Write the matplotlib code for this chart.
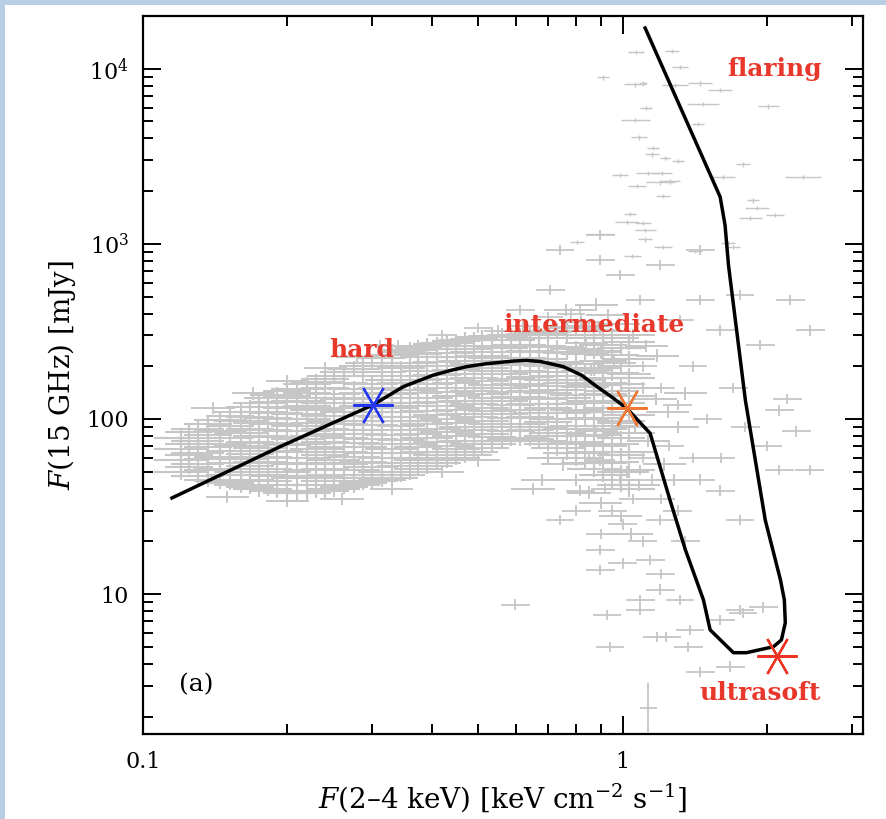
import numpy as np
import matplotlib
matplotlib.use("Agg")
import matplotlib.pyplot as plt
import matplotlib.patches as patches
from matplotlib.ticker import LogLocator, NullFormatter

plt.rcParams['font.family'] = ['DejaVu Serif']
plt.rcParams['mathtext.fontset'] = 'dejavuserif'

# --- track of the outburst (black line)
track_x = [0.115, 0.193, 0.301, 0.349, 0.403, 0.44, 0.473, 0.521, 0.591, 0.63, 0.673,
           0.751, 0.82, 0.883, 0.95, 1.019, 1.14, 1.254, 1.35, 1.472, 1.52, 1.57, 1.70,
           1.81, 2.06, 2.14, 2.18, 2.17, 2.13, 1.98, 1.80, 1.66, 1.633, 1.595, 1.113]
track_y = [35.4, 69.4, 120, 153, 178, 190, 199, 207, 214, 216, 213,
           199, 178, 153, 133, 115, 82.8, 34.4, 17.9, 9.27, 6.25, 5.73, 4.63,
           4.63, 5.01, 5.48, 6.86, 9.27, 12.05, 26.5, 128, 755, 1276, 1853, 17070]

# --- state markers
state_names = ['hard', 'intermediate', 'ultrasoft']
state_x = [0.301, 1.02, 2.094]
state_y = [120, 115, 4.43]
state_colors = ['#2438f0', '#ee7733', '#ee3322']

# --- state labels
label_text = ['hard', 'intermediate', 'flaring', 'ultrasoft']
label_x = [0.286, 0.872, 2.067, 1.934]
label_y = [247, 343, 10000, 2.73]

# --- dense hard/intermediate band: one column of points per x value
band_x = [0.12, 0.13, 0.145, 0.16, 0.175, 0.19, 0.21, 0.23, 0.25, 0.275, 0.30, 0.33,
          0.36, 0.39, 0.43, 0.47, 0.51, 0.56, 0.61, 0.67, 0.73, 0.80, 0.87, 0.95, 1.03]
band_y = [
    [50, 58, 67, 78],
    [47, 55, 64, 75, 88],
    [44, 52, 61, 72, 85, 99],
    [42, 50, 59, 70, 83, 97, 110],
    [40, 48, 57, 68, 80, 95, 110, 124],
    [39, 47, 56, 66, 79, 93, 108, 125, 137],
    [38, 46, 55, 65, 77, 91, 107, 126, 148],
    [39, 47, 56, 67, 80, 95, 112, 132, 162],
    [40, 48, 58, 69, 82, 98, 116, 138, 176],
    [42, 51, 61, 73, 87, 104, 124, 148, 192],
    [44, 53, 64, 77, 92, 110, 131, 158, 210],
    [46, 56, 67, 81, 97, 116, 139, 168, 200, 232],
    [50, 60, 72, 86, 103, 123, 147, 176, 210, 248],
    [54, 65, 78, 93, 111, 132, 158, 188, 225, 262],
    [58, 70, 84, 100, 119, 142, 169, 200, 238, 272],
    [62, 75, 90, 107, 127, 151, 180, 214, 250, 284],
    [68, 82, 98, 116, 138, 164, 195, 230, 292],
    [75, 90, 107, 127, 151, 180, 214, 255, 298],
    [78, 94, 112, 133, 158, 188, 224, 265, 300],
    [75, 90, 108, 130, 155, 185, 220, 262, 308],
    [68, 83, 100, 121, 146, 176, 212, 256, 318],
    [60, 74, 91, 112, 137, 168, 206, 252, 336],
    [52, 65, 81, 101, 126, 157, 195, 243, 300],
    [45, 57, 72, 91, 115, 145, 183, 231, 290],
    [40, 51, 65, 83, 106, 135, 172, 220, 275],
]

# second, interleaved set of band points
band2_x = [0.125, 0.137, 0.152, 0.167, 0.182, 0.20, 0.22, 0.24, 0.262, 0.287, 0.315, 0.345,
           0.375, 0.41, 0.45, 0.49, 0.535, 0.585, 0.64, 0.70, 0.765, 0.835, 0.91, 0.99]
band2_y = [
    [53, 62, 72, 84],
    [45, 51, 59, 69, 81, 93],
    [43, 48, 56, 66, 78, 91, 104],
    [41, 45, 54, 63, 74, 88, 103, 117],
    [40, 44, 52, 61, 73, 86, 101, 117, 131],
    [38, 42, 50, 60, 71, 85, 100, 116, 136, 145],
    [38, 42, 51, 60, 72, 85, 100, 118, 140, 158],
    [39, 44, 52, 62, 74, 88, 104, 123, 150, 170],
    [41, 46, 55, 65, 78, 93, 110, 130, 160, 185],
    [43, 48, 57, 69, 82, 98, 118, 140, 175, 200],
    [45, 50, 60, 72, 86, 103, 124, 150, 185, 222],
    [48, 54, 64, 76, 91, 110, 132, 160, 195, 240],
    [52, 58, 69, 82, 98, 118, 141, 168, 200, 235, 256],
    [56, 62, 74, 88, 105, 125, 150, 178, 212, 250, 268],
    [60, 67, 80, 95, 113, 135, 160, 190, 225, 262, 280],
    [65, 72, 86, 103, 122, 145, 172, 205, 240, 288],
    [72, 79, 94, 111, 132, 157, 187, 222, 262, 296],
    [77, 85, 101, 120, 142, 170, 202, 240, 282, 300],
    [77, 86, 102, 122, 145, 173, 206, 245, 290, 305],
    [72, 80, 96, 116, 140, 168, 200, 240, 290, 314],
    [64, 72, 88, 108, 132, 160, 195, 238, 300, 330],
    [56, 64, 80, 100, 124, 152, 188, 235, 290, 340],
    [48, 56, 70, 88, 110, 138, 172, 215, 265, 320],
    [42, 50, 62, 78, 98, 124, 158, 200, 255],
]

# ragged edges of the band and the intermediate-state cloud
edge_x = [0.15, 0.2, 0.26, 0.33, 0.42, 0.5, 0.14, 0.17, 0.2, 0.24, 0.28, 0.34,
          0.76, 0.82, 0.88, 0.93, 0.98, 1.05, 1.12, 1.18, 0.84, 0.9, 0.96, 1.03,
          1.1, 1.17, 1.24, 0.86, 0.92, 0.98, 1.06, 1.13, 1.22, 0.83, 0.88, 0.95,
          1.02, 1.08, 0.75, 0.8, 0.85, 0.9, 0.7, 0.68, 0.65, 1.3, 1.35, 1.28,
          0.99, 1.04]
edge_y = [36, 34, 35, 40, 50, 58, 115, 140, 165, 195, 225, 260,
          420, 360, 450, 390, 350, 300, 260, 230, 270, 240, 210, 180,
          150, 130, 110, 190, 160, 95, 90, 75, 55, 110, 85, 65,
          50, 42, 55, 45, 38, 33, 60, 45, 40, 90, 140, 45,
          28, 22]

# --- flaring points (upper right)
flare_x = [1.066, 1.267, 1.316, 0.910, 1.061, 1.102, 1.285, 1.449, 1.595, 1.118, 1.47,
           2.008, 1.061, 1.435, 1.081, 1.157, 1.151, 1.225, 1.304, 1.781, 0.987, 1.129,
           1.207, 1.618, 2.375, 1.071, 1.196, 1.254, 1.213, 1.868, 1.905, 2.076, 1.841,
           1.036, 1.021, 1.102, 1.113, 0.897, 0.803, 1.113, 1.213, 1.414, 1.657, 1.697,
           1.046]
flare_y = [12440, 12560, 10210, 8910, 8130, 8240, 8030, 8240, 7520, 5940, 6260,
           6090, 5070, 4810, 4050, 3510, 3240, 3080, 2960, 2840, 2460, 2530,
           2530, 2400, 2400, 2130, 2240, 2270, 1870, 1770, 1600, 1460, 1400,
           1480, 1330, 1310, 1200, 1140, 1020, 1060, 957, 908, 1010, 957,
           849]
flare_dx = [0.016, 0.014, 0.016, 0.013, 0.023, 0.008, 0.027, 0.025, 0.025, 0.012, 0.033,
            0.022, 0.030, 0.013, 0.016, 0.012, 0.014, 0.010, 0.012, 0.015, 0.016, 0.025,
            0.020, 0.025, 0.038, 0.018, 0.030, 0.020, 0.015, 0.013, 0.025, 0.018, 0.024,
            0.012, 0.025, 0.016, 0.022, 0.027, 0.015, 0.015, 0.018, 0.015, 0.014, 0.014,
            0.018]

# --- scattered points outside the band
scat_x = [0.312, 0.36, 0.42, 0.50, 0.55, 0.62, 0.70, 0.78, 0.85,
          0.740, 0.897, 0.987, 1.196, 1.449, 1.755, 2.231, 2.456, 0.815, 1.087, 1.316,
          1.595, 1.932, 0.897, 0.706, 0.611, 1.449, 0.897, 2.12, 2.45, 2.3, 2.2,
          0.897, 0.987, 1.087, 1.196, 1.449, 1.595, 1.755, 2.12, 0.897, 1.14, 1.087,
          1.196, 1.316, 1.38, 1.595, 1.755, 0.897, 0.740, 0.815, 0.597, 0.927, 1.087,
          1.179, 1.233, 1.37, 0.94, 1.449, 1.673, 1.78, 1.96,
          0.78, 0.85, 0.92, 0.95, 1.0, 1.05, 1.1, 1.15, 1.2, 1.25, 1.3, 1.35, 1.1,
          1.0, 1.2, 0.9, 0.8, 1.4, 1.5, 1.6, 1.3, 1.2, 1.1, 1.4, 1.7, 1.8, 2.0]
scat_y = [265, 250, 300, 330, 320, 340, 380, 400, 330,
          920, 806, 662, 755, 477, 509, 477, 321, 418, 477, 366,
          321, 264, 321, 544, 418, 920, 1120, 112, 51, 85, 130,
          58, 45, 51, 26.5, 45, 39, 26.5, 51, 17.9, 15.7, 9.27,
          10.6, 9.27, 6.25, 7.1, 8.1, 13.7, 26.5, 39, 8.7, 7.6, 8.1,
          5.7, 5.7, 5.0, 5.0, 3.6, 3.85, 7.8, 8.4,
          80, 60, 40, 30, 25, 35, 60, 45, 35, 70, 30, 20, 20,
          15, 13, 22, 30, 60, 100, 60, 120, 150, 200, 200, 150, 90, 70]

# one large cross near the bottom
lone_x = [1.13]
lone_y = [2.24]

GREY = '#c6c6c6'


def bars(x, y, dx, dy, lw=1.3):
    x = np.asarray(x, float)
    y = np.asarray(y, float)
    dx = np.broadcast_to(np.asarray(dx, float), x.shape)
    dy = np.broadcast_to(np.asarray(dy, float), y.shape)
    xe = [x - x / 10**dx, x * 10**dx - x]
    ye = [y - y / 10**dy, y * 10**dy - y]
    ax.errorbar(x, y, xerr=xe, yerr=ye, fmt='none', ecolor=GREY,
                elinewidth=lw, capsize=0, zorder=1)


fig = plt.figure(figsize=(8.87, 8.19), dpi=100)

# light blue frame on top and left
fig.patches.append(patches.Rectangle((0, 1 - 5 / 819), 1, 5 / 819, transform=fig.transFigure,
                                     facecolor='#b9cde4', edgecolor='none'))
fig.patches.append(patches.Rectangle((0, 0), 5 / 887, 1, transform=fig.transFigure,
                                     facecolor='#b9cde4', edgecolor='none'))

ax = fig.add_axes([0.161, 0.1038, 0.8116, 0.8767])
ax.set_xscale('log')
ax.set_yscale('log')
ax.set_xlim(0.1, 3.16)
ax.set_ylim(1.59, 2.0e4)

bx = [x for x, ys in zip(band_x, band_y) for _ in ys]
by = [y for ys in band_y for y in ys]
bars(bx, by, 0.055, 0.045, lw=1.5)
bx2 = [x for x, ys in zip(band2_x, band2_y) for _ in ys]
by2 = [y for ys in band2_y for y in ys]
bars(bx2, by2, 0.05, 0.04, lw=1.5)
bars(edge_x, edge_y, 0.045, 0.035, lw=1.4)
bars(flare_x, flare_y, flare_dx, 0.012, lw=1.0)
bars(scat_x, scat_y, 0.03, 0.03)
bars(lone_x, lone_y, 0.018, 0.14)

ax.plot(track_x, track_y, color='black', lw=2.5, zorder=3, solid_joinstyle='round')

for sx, sy, c in zip(state_x, state_y, state_colors):
    ax.plot(sx, sy, marker=(6, 2, 90), ms=29, mec=c, mew=1.6, ls='none', zorder=4)

for t, lx, ly in zip(label_text, label_x, label_y):
    ax.text(lx, ly, t, color='#e8372b', fontsize=18, fontweight='bold',
            ha='center', va='center', zorder=5)

ax.text(0.129, 3.03, '(a)', fontsize=18, ha='center', va='center')

ax.set_xticks([0.1, 1])
ax.set_xticklabels(['0.1', '1'])
ax.set_yticks([10, 100, 1000, 10000])
ax.set_yticklabels(['10', '100', '10$^3$', '10$^4$'])
ax.xaxis.set_minor_locator(LogLocator(base=10, subs=np.arange(2, 10)))
ax.yaxis.set_minor_locator(LogLocator(base=10, subs=np.arange(2, 10)))
ax.xaxis.set_minor_formatter(NullFormatter())
ax.yaxis.set_minor_formatter(NullFormatter())
ax.tick_params(which='both', direction='in', top=True, right=True, width=1.4)
ax.tick_params(which='major', length=13, labelsize=16)
ax.tick_params(axis='x', which='major', pad=12)
ax.tick_params(axis='y', which='major', pad=10)
ax.tick_params(which='minor', length=7)
for s in ax.spines.values():
    s.set_linewidth(1.6)

ax.set_xlabel(r'$F$(2–4 keV) [keV cm$^{-2}$ s$^{-1}$]', fontsize=20, labelpad=6)
ax.set_ylabel(r'$F$(15 GHz) [mJy]', fontsize=20, labelpad=6)

fig.savefig('out.png', dpi=100)
